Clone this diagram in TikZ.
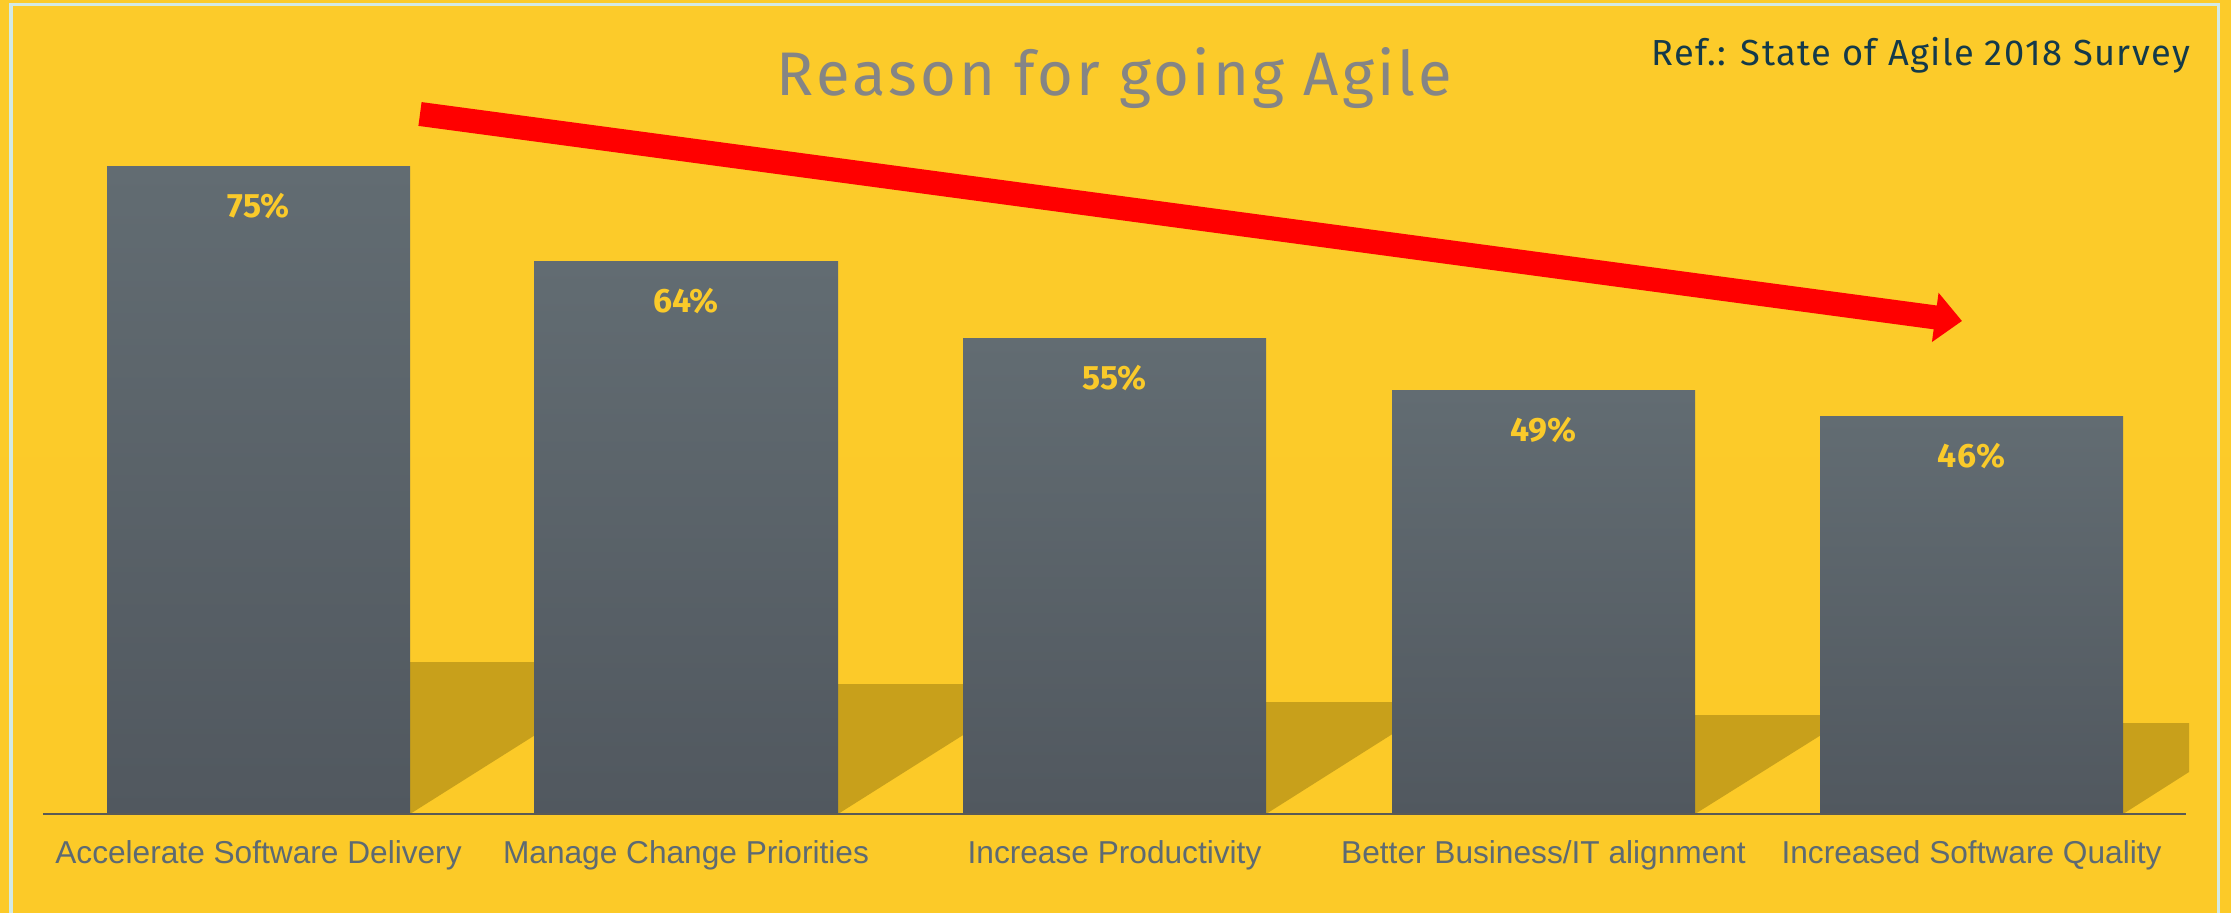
\documentclass[tikz,border=0pt]{standalone}
\usepackage{fontspec}
\setmainfont{Fira Sans}
\newfontfamily\labelfont{Liberation Sans}
\newfontfamily\titlefont[LetterSpace=5]{Fira Sans}
\newfontfamily\reffont[LetterSpace=4]{Fira Sans}
\usetikzlibrary{arrows.meta}
\definecolor{bgtop}{HTML}{FCCB2A}
\definecolor{bgmid}{HTML}{F5BD08}
\definecolor{bgbot}{HTML}{FCCA28}
\definecolor{bartop}{HTML}{626C72}
\definecolor{barbot}{HTML}{51585F}
\definecolor{shadowcol}{HTML}{C8A01B}
\definecolor{axiscol}{HTML}{5A5A55}
\definecolor{titlegray}{HTML}{858585}
\definecolor{refteal}{HTML}{143A4A}
\definecolor{pctyellow}{HTML}{FACA2A}
\definecolor{catgray}{HTML}{5D6A73}
\definecolor{framecol}{HTML}{D3EAE4}

\begin{document}
\begin{tikzpicture}[x=0.01cm,y=-0.01cm,
  bar/.style={top color=bartop, bottom color=barbot},
  barshadow/.style={fill=shadowcol},
  pct/.style={anchor=base, text=pctyellow, inner sep=0pt, font=\fontsize{9.6}{11}\selectfont\bfseries},
  cat/.style={anchor=base, text=catgray, inner sep=0pt, font=\labelfont\fontsize{9}{11}\selectfont}]

\useasboundingbox (0,0) rectangle (2231,913);
\shade[top color=bgtop, middle color=bgmid, bottom color=bgbot] (0,0) rectangle (2231,913);
\draw[framecol, line width=0.03cm] (11,913) -- (11,5) -- (2218,5) -- (2218,913);

\node[anchor=base, text=titlegray, inner sep=0pt, font=\titlefont\fontsize{17.5}{20}\selectfont] (title) at (1114.5,96) {Reason for going Agile};
\node[anchor=base east, text=refteal, inner sep=0pt, font=\reffont\fontsize{10.3}{12}\selectfont] (ref) at (2191,66) {Ref.: State of Agile 2018 Survey};

\fill[barshadow] (107,814) -- (410,814) -- (651,662) -- (107,662) -- cycle;
\fill[barshadow] (534,814) -- (838,814) -- (1044,684) -- (534,684) -- cycle;
\fill[barshadow] (963,814) -- (1266,814) -- (1443,702) -- (963,702) -- cycle;
\fill[barshadow] (1392,814) -- (1695,814) -- (1853,715) -- (1392,715) -- cycle;
\fill[barshadow] (1820,814) -- (2123,814) -- (2189,772) -- (2189,723) -- (1820,723) -- cycle;

\shade[bar] (107,167) rectangle (410,814);
\shade[bar] (534,262) rectangle (838,814);
\shade[bar] (963,339) rectangle (1266,814);
\shade[bar] (1392,391) rectangle (1695,814);
\shade[bar] (1820,417) rectangle (2123,814);

\draw[axiscol, line width=0.02cm] (43,814) -- (2186,814);

\node[pct] (pct1) at (258.5,218) {75\%};
\node[pct] (pct2) at (686,313) {64\%};
\node[pct] (pct3) at (1114.5,390) {55\%};
\node[pct] (pct4) at (1543.5,442) {49\%};
\node[pct] (pct5) at (1971.5,468) {46\%};

\node[cat] (cat1) at (258.5,863) {Accelerate Software Delivery};
\node[cat] (cat2) at (686,863) {Manage Change Priorities};
\node[cat] (cat3) at (1114.5,863) {Increase Productivity};
\node[cat] (cat4) at (1543.5,863) {Better Business/IT alignment};
\node[cat] (cat5) at (1971.5,863) {Increased Software Quality};

\coordinate (arrowtail) at (420,114);
\coordinate (arrowtip) at (1962,321);
\draw[red, line width=0.24cm, -{Triangle[width=0.48cm,length=0.27cm]}] (arrowtail) -- (arrowtip);

\end{tikzpicture}
\end{document}
